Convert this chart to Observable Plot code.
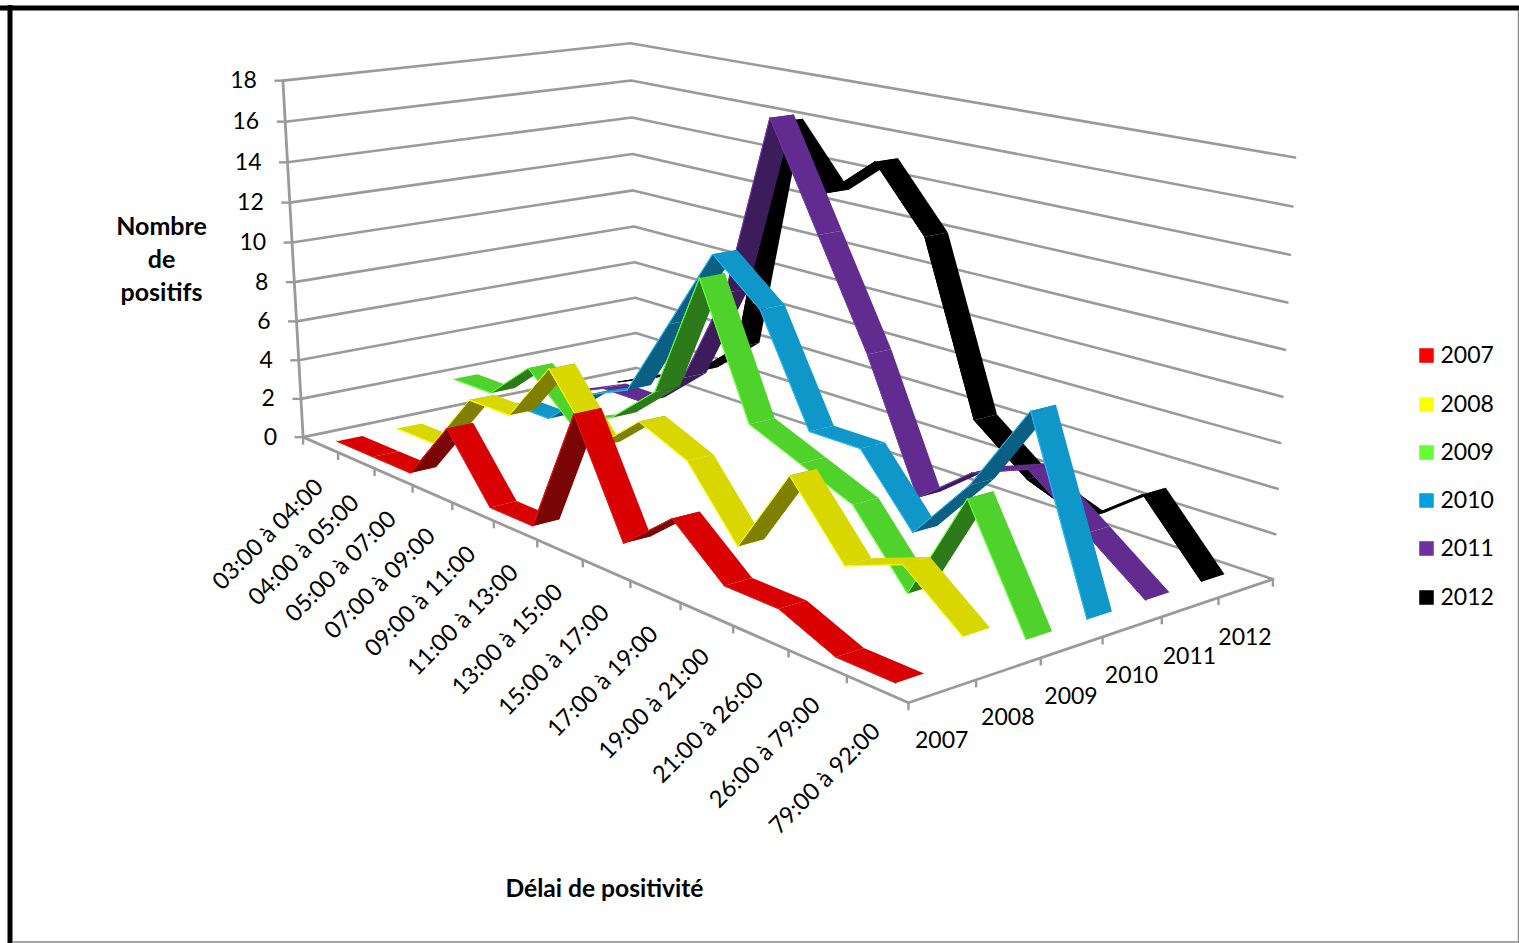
<!DOCTYPE html>
<html><head><meta charset="utf-8">
<style>html,body{margin:0;padding:0;background:#fff;overflow:hidden}svg{display:block}</style>
<script src="https://cdn.jsdelivr.net/npm/d3@7"></script>
<script src="https://cdn.jsdelivr.net/npm/@observablehq/plot@0.6"></script>
</head><body><div id="chart"></div>
<script>
const delays = ["03:00 à 04:00","04:00 à 05:00","05:00 à 07:00","07:00 à 09:00","09:00 à 11:00","11:00 à 13:00","13:00 à 15:00","15:00 à 17:00","17:00 à 19:00","19:00 à 21:00","21:00 à 26:00","26:00 à 79:00","79:00 à 92:00"];
const years = ["2007","2008","2009","2010","2011","2012"];
const v2007 = [0,0,0,3,0,0,6,1,3,1,1,0,0];
const v2008 = [0,0,3,3,6,3,5,4,1,5,2,3,1];
const v2009 = [2,2,4,2,3,5,11,5,4,3,0,5,0];
const v2010 = [0,0,2,3,7,11,9,4,4,1,4,8,0];
const v2011 = [0,1,1,3,8,17,12,7,1,3,4,2,0];
const v2012 = [0,1,2,4,16,13,15,12,4,2,1,3,0];
const series = [v2007,v2008,v2009,v2010,v2011,v2012];
const yTicks = [0,2,4,6,8,10,12,14,16,18];
const lightColors = ["#d80000","#d8d800","#50d22c","#1097c9","#612b8f","#000000"];
const darkColors  = ["#7a0505","#7f7f00","#2c7a1a","#0b5f82","#3d1c5c","#000000"];
const edgeColors  = ["#e81010","#ffff00","#66ff33","#22b5ee","#6f35a0","#000000"];
const legendColors= ["#ff0000","#ffff00","#66ff33","#00a0dc","#7030a0","#000000"];
const legendY = [355,404,452,500,548,597];
const S0=0.27, S1=0.69;

// camera calibration: cube corners (category, year, value fractions) -> page position
const cube = [[0,0,0],[1,0,0],[1,1,0],[0,1,0],[0,0,1],[0,1,1],[1,1,1]];
const page = [[302,437],[908,702],[1272,579],[637,367],[283,80],[629,43],[1295,157]];
function solveCamera(){
  const A=[],b=[];
  cube.forEach(([X,Y,Z],k)=>{const x=page[k][0]/1000,y=page[k][1]/1000;
    A.push([X,Y,Z,1,0,0,0,0,-x*X,-x*Y,-x*Z]);b.push(x);
    A.push([0,0,0,0,X,Y,Z,1,-y*X,-y*Y,-y*Z]);b.push(y);});
  const n=11,M=[];
  for(let r=0;r<n;r++){M[r]=[];for(let c=0;c<n;c++){let s=0;A.forEach(a=>s+=a[r]*a[c]);M[r][c]=s;}
    let s=0;A.forEach((a,k)=>s+=a[r]*b[k]);M[r][n]=s;}
  for(let c=0;c<n;c++){let p=c;for(let r=c+1;r<n;r++)if(Math.abs(M[r][c])>Math.abs(M[p][c]))p=r;
    [M[c],M[p]]=[M[p],M[c]];
    for(let r=0;r<n;r++)if(r!==c){const f=M[r][c]/M[c][c];for(let k=c;k<=n;k++)M[r][k]-=f*M[c][k];}}
  return M.map((row,i)=>row[n]/row[i]);
}
const P=solveCamera();
function proj(u,d,v){const z=v/18,w=P[8]*u+P[9]*d+P[10]*z+1;
  return [1000*(P[0]*u+P[1]*d+P[2]*z+P[3])/w,1000*(P[4]*u+P[5]*d+P[6]*z+P[7])/w];}

// ribbons: back years first, faces left to right
const faces=[];
for(let j=5;j>=0;j--){
  const d0=(j+S0)/6,d1=(j+S1)/6,vals=series[j];
  for(let i=0;i<12;i++){
    const u0=(i+.5)/13,u1=(i+1.5)/13;
    const q=[proj(u0,d0,vals[i]),proj(u1,d0,vals[i+1]),proj(u1,d1,vals[i+1]),proj(u0,d1,vals[i])];
    const area=d3.polygonArea(q);
    const fill=area>=0?lightColors[j]:darkColors[j];
    q.forEach(p=>faces.push({id:`${j}-${i}`,x:p[0],y:p[1],fill,stroke:"none"}));
    faces.push({id:`${j}-${i}e`,x:q[0][0],y:q[0][1],fill:"none",stroke:edgeColors[j]});
    faces.push({id:`${j}-${i}e`,x:q[1][0],y:q[1][1],fill:"none",stroke:edgeColors[j]});
  }
}
const grid=[];
yTicks.forEach(t=>[[0,0],[0,1],[1,1]].forEach(([u,d])=>{const p=proj(u,d,t);grid.push({id:t,x:p[0],y:p[1]});}));
const axis3=[[0,0,18],[0,0,0],[1,0,0],[1,1,0]].map(a=>{const p=proj(...a);return {x:p[0],y:p[1]};});
const ticksDown=[...delays.map((_,i)=>proj(i/13,0,0)),proj(1,0,0),...years.map((_,j)=>proj(1,(j+1)/6,0))]
  .map(p=>({x:p[0],y1:p[1],y2:p[1]+8}));
const ticksLeft=yTicks.map(t=>{const p=proj(0,0,t);return {y:p[1],x1:p[0]-8,x2:p[0]};});
const yLabels=yTicks.map(t=>{const p=proj(0,0,t);return {x:p[0],y:p[1],t:String(t)};});
const catLabels=delays.map((t,i)=>{const p=proj((i+.5)/13,0,0);return {x:p[0],y:p[1],t};});
const yearLabels=years.map((t,j)=>{const p=proj(1,(j+.5)/6,0);return {x:p[0],y:p[1],t};});
const legend=years.map((t,j)=>({t,y:legendY[j],c:legendColors[j]}));
const yTitle=["Nombre","de","positifs"];
const font="Lato";
const GRID="#9a9a9a";

const chart=Plot.plot({
  width:1519,height:943,margin:0,
  style:{fontFamily:font,background:"#fff"},
  x:{domain:[0,1519],range:[0,1519],axis:null},
  y:{domain:[0,943],range:[0,943],axis:null},
  marks:[
    Plot.line(grid,{x:"x",y:"y",z:"id",stroke:GRID,strokeWidth:2.6}),
    Plot.line(axis3,{x:"x",y:"y",stroke:GRID,strokeWidth:2.8}),
    Plot.ruleX(ticksDown,{x:"x",y1:"y1",y2:"y2",stroke:GRID,strokeWidth:2.4}),
    Plot.ruleY(ticksLeft,{y:"y",x1:"x1",x2:"x2",stroke:GRID,strokeWidth:2.4}),
    Plot.line(faces,{x:"x",y:"y",z:"id",fill:"fill",stroke:"stroke",strokeWidth:1,curve:"linear-closed"}),
    Plot.text(yLabels,{x:"x",y:"y",text:"t",textAnchor:"end",dx:-26,dy:0,fontSize:23,fill:"#000"}),
    Plot.text(catLabels,{x:"x",y:"y",text:"t",textAnchor:"end",rotate:-45,dx:-1,dy:38.5,fontSize:23.6,fill:"#000"}),
    Plot.text(yearLabels,{x:"x",y:"y",text:"t",textAnchor:"middle",dx:-1,dy:49,fontSize:23,fill:"#000"}),
    Plot.text(yTitle,{x:()=>161,y:(d,i)=>226+33*i,text:d=>d,fontSize:25,fontWeight:"bold",fill:"#000"}),
    Plot.text(["Délai de positivité"],{x:()=>604,y:()=>889,text:d=>d,fontSize:24.6,fontWeight:"bold",fill:"#000"}),
    Plot.dot(legend,{x:()=>1426,y:"y",symbol:"square",r:8.2,fill:"c",stroke:null}),
    Plot.text(legend,{x:()=>1440,y:"y",text:"t",textAnchor:"start",fontSize:23,fill:"#000"}),
    Plot.ruleY([7.5],{stroke:"#000",strokeWidth:5}),
    Plot.ruleX([9.5],{y1:5,y2:943,stroke:"#000",strokeWidth:5}),
    Plot.ruleY([941.5],{x1:12,x2:1519,stroke:"#888",strokeWidth:1.5}),
    Plot.ruleX([1518],{y1:10,y2:943,stroke:"#888",strokeWidth:1.5})
  ]
});
document.getElementById("chart").append(chart);
</script></body></html>
